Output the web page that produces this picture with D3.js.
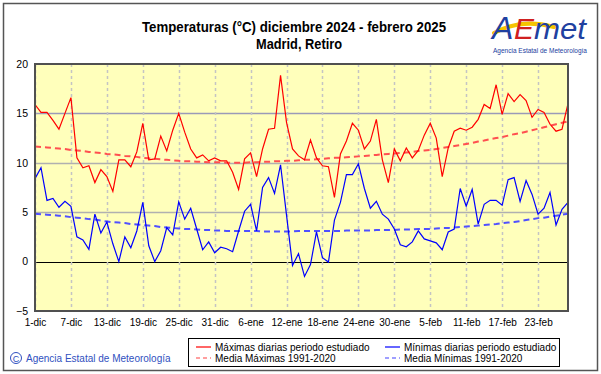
<!DOCTYPE html>
<html>
<head>
<meta charset="utf-8">
<style>
  body { margin: 0; background: #fff; }
  svg text { font-family: "Liberation Sans", Arial, sans-serif; }
</style>
</head>
<body>
<svg width="601" height="374"></svg>
<script src="https://d3js.org/d3.v7.min.js"></script>
<script>

// daily values, 1-dic-2024 .. 28-feb-2025 (90 days)
var tmax = [15.9, 15.1, 15.1, 14.3, 13.4, 15.0, 16.6, 10.5, 9.5, 9.7,
            8.0, 9.3, 8.6, 7.1, 10.3, 10.3, 9.6, 11.1, 14.0, 10.3,
            10.4, 12.7, 11.2, 13.3, 15.0, 13.1, 11.4, 10.5, 10.8, 10.2,
            10.5, 10.2, 10.2, 9.05, 7.3, 10.4, 11.0, 8.6, 11.4, 13.4,
            13.5, 18.85, 14.1, 11.4, 10.7, 10.3, 12.3, 10.5, 9.7, 9.6,
            6.5, 10.9, 12.2, 14.0, 13.3, 11.4, 12.2, 14.4, 10.3, 8.0,
            11.4, 10.2, 11.5, 10.5, 11.25, 12.8, 14.0, 12.5, 8.6, 11.5,
            13.2, 13.5, 13.3, 13.6, 14.4, 15.9, 15.5, 17.9, 14.9, 17.0,
            16.2, 16.9, 16.3, 14.6, 15.4, 15.1, 13.9, 13.2, 13.4, 16.0];

var tmin = [8.4, 9.5, 6.2, 6.4, 5.5, 6.1, 5.6, 2.5, 2.2, 1.25,
            4.8, 2.9, 4.0, 1.8, 0.0, 2.5, 1.4, 3.1, 6.0, 1.6,
            0.0, 1.1, 3.45, 2.7, 6.05, 4.3, 5.4, 3.3, 1.2, 2.0,
            0.9, 1.45, 1.3, 1.0, 3.1, 5.1, 5.8, 3.1, 7.5, 8.5,
            6.9, 9.8, 4.7, -0.4, 0.8, -1.5, -0.3, 3.0, 0.4, -0.05,
            4.2, 6.0, 8.8, 8.8, 9.9, 7.4, 5.4, 6.1, 4.8, 4.3,
            3.3, 1.7, 1.5, 2.0, 3.1, 2.3, 2.1, 1.9, 1.2, 3.0,
            3.3, 7.4, 5.6, 7.3, 3.8, 5.8, 6.2, 6.2, 5.7, 8.3,
            8.5, 6.1, 8.2, 6.8, 4.8, 5.4, 7.0, 3.7, 5.3, 6.0];

// media 1991-2020
var clmax = [11.65, 11.6, 11.55, 11.5, 11.45, 11.4, 11.3, 11.25, 11.2, 11.1,
             11.05, 11.0, 10.9, 10.85, 10.8, 10.7, 10.65, 10.6, 10.5, 10.45,
             10.4, 10.35, 10.3, 10.25, 10.2, 10.15, 10.15, 10.1, 10.1, 10.05,
             10.05, 10.05, 10.0, 10.0, 10.0, 10.0, 10.05, 10.05, 10.1, 10.1,
             10.15, 10.15, 10.2, 10.2, 10.25, 10.3, 10.3, 10.35, 10.4, 10.45,
             10.5, 10.5, 10.55, 10.6, 10.65, 10.7, 10.75, 10.8, 10.85, 10.9,
             10.95, 11.0, 11.05, 11.1, 11.2, 11.25, 11.3, 11.4, 11.5, 11.6,
             11.7, 11.8, 11.9, 12.0, 12.15, 12.25, 12.4, 12.5, 12.6, 12.75,
             12.9, 13.0, 13.15, 13.3, 13.45, 13.6, 13.75, 13.9, 14.05, 14.2];

var clmin = [4.85, 4.8, 4.75, 4.7, 4.65, 4.6, 4.5, 4.45, 4.4, 4.3,
             4.25, 4.15, 4.05, 4.0, 3.95, 3.9, 3.8, 3.75, 3.7, 3.65,
             3.6, 3.5, 3.45, 3.4, 3.35, 3.3, 3.3, 3.25, 3.2, 3.2,
             3.15, 3.15, 3.1, 3.1, 3.1, 3.1, 3.1, 3.1, 3.05, 3.05,
             3.05, 3.05, 3.05, 3.05, 3.1, 3.1, 3.1, 3.1, 3.1, 3.1,
             3.1, 3.1, 3.15, 3.15, 3.15, 3.15, 3.15, 3.2, 3.2, 3.2,
             3.2, 3.25, 3.25, 3.25, 3.3, 3.3, 3.3, 3.35, 3.4, 3.4,
             3.45, 3.5, 3.55, 3.6, 3.65, 3.7, 3.75, 3.8, 3.9, 3.95,
             4.0, 4.1, 4.2, 4.3, 4.4, 4.45, 4.55, 4.65, 4.75, 4.85];

var xLabels = ["1-dic", "7-dic", "13-dic", "19-dic", "25-dic", "31-dic", "6-ene", "12-ene",
               "18-ene", "24-ene", "30-ene", "5-feb", "11-feb", "17-feb", "23-feb"];
var yTicks = [-5, 0, 5, 10, 15, 20];

var legendItems = [
  {label: "Máximas diarias periodo estudiado", color: "#ff0000", dash: null},
  {label: "Media Máximas 1991-2020", color: "#ff4040", dash: "4,3"},
  {label: "Mínimas diarias periodo estudiado", color: "#0000ff", dash: null},
  {label: "Media Mínimas 1991-2020", color: "#4040ff", dash: "4,3"}
];

var svg = d3.select("svg");

var x = d3.scaleLinear().domain([0, tmax.length - 1]).range([35, 568]),
    y = d3.scaleLinear().domain([-5, 20]).range([311, 64]);

// outer frame
svg.append("rect")
    .attr("x", 3.5).attr("y", 3.5).attr("width", 594).attr("height", 367)
    .attr("fill", "none").attr("stroke", "#555").attr("stroke-width", 1.5);

// title
svg.append("text")
    .attr("x", 294).attr("y", 32)
    .attr("text-anchor", "middle")
    .attr("font-size", 14).attr("font-weight", "bold")
    .attr("textLength", 304).attr("lengthAdjust", "spacingAndGlyphs")
    .text("Temperaturas (°C) diciembre 2024 - febrero 2025");
svg.append("text")
    .attr("x", 299).attr("y", 49)
    .attr("text-anchor", "middle")
    .attr("font-size", 14).attr("font-weight", "bold")
    .attr("textLength", 86).attr("lengthAdjust", "spacingAndGlyphs")
    .text("Madrid, Retiro");

// logo
var logo = svg.append("g").attr("transform", "translate(492,6)");
logo.append("path")
    .attr("d", "M2,27 C20,17 40,15 62,21")
    .attr("fill", "none").attr("stroke", "#f5c400").attr("stroke-width", 4)
    .attr("stroke-linecap", "round");
logo.append("text")
    .attr("x", 0).attr("y", 33)
    .attr("font-size", 32).attr("font-style", "italic")
    .attr("fill", "#2040a0").text("A");
logo.append("text")
    .attr("x", 22).attr("y", 33)
    .attr("font-size", 30).attr("font-style", "italic")
    .attr("fill", "#d02020").text("E");
logo.append("text")
    .attr("x", 42).attr("y", 33)
    .attr("font-size", 30).attr("font-style", "italic")
    .attr("textLength", 52).attr("lengthAdjust", "spacingAndGlyphs")
    .attr("fill", "#2040a0").text("met");
logo.append("text")
    .attr("x", 48).attr("y", 47)
    .attr("text-anchor", "middle")
    .attr("font-size", 7).attr("fill", "#2040a0")
    .attr("textLength", 94).attr("lengthAdjust", "spacingAndGlyphs")
    .text("Agencia Estatal de Meteorología");

// plot background
svg.append("rect")
    .attr("x", x(0)).attr("y", y(20))
    .attr("width", x(89) - x(0)).attr("height", y(-5) - y(20))
    .attr("fill", "#ffffbb");

// horizontal grid
svg.append("g").selectAll("line")
  .data(yTicks.filter(function(d) { return d > -5 && d < 20; }))
  .enter().append("line")
    .attr("x1", x(0)).attr("x2", x(89))
    .attr("y1", function(d) { return Math.round(y(d)) + 0.5; })
    .attr("y2", function(d) { return Math.round(y(d)) + 0.5; })
    .attr("stroke", function(d) { return d === 0 ? "#000" : (d === 15 ? "#9a9ab8" : "#b0b0b0"); })
    .attr("stroke-width", function(d) { return d === 0 ? 1 : 1.5; });

// vertical dashed grid
svg.append("g").selectAll("line")
  .data(xLabels)
  .enter().append("line")
    .attr("x1", function(d, i) { return Math.round(x(i * 6)) + 0.5; })
    .attr("x2", function(d, i) { return Math.round(x(i * 6)) + 0.5; })
    .attr("y1", y(20)).attr("y2", y(-5))
    .attr("stroke", "#c4c4c4").attr("stroke-width", 1.5)
    .attr("stroke-dasharray", "3,3");

// axes labels
var xAxis = d3.axisBottom(x)
    .tickValues(xLabels.map(function(d, i) { return i * 6; }))
    .tickFormat(function(d) { return xLabels[d / 6]; })
    .tickSize(0).tickPadding(8);
var gx = svg.append("g").attr("transform", "translate(0," + y(-5) + ")").call(xAxis);
gx.select(".domain").remove();
gx.selectAll("text").attr("font-size", 10).attr("fill", "#000")
    .style("font-family", "'Liberation Sans', Arial, sans-serif");

var yAxis = d3.axisLeft(y).tickValues(yTicks).tickSize(0).tickPadding(7);
var gy = svg.append("g").attr("transform", "translate(" + x(0) + ",0)").call(yAxis);
gy.select(".domain").remove();
gy.selectAll("text").attr("font-size", 10.5).attr("fill", "#000")
    .style("font-family", "'Liberation Sans', Arial, sans-serif");

// series
var line = d3.line()
    .x(function(d, i) { return x(i); })
    .y(function(d) { return y(d); });

svg.append("path").datum(clmax).attr("d", line)
    .attr("fill", "none").attr("stroke", "#ff5050").attr("stroke-width", 2)
    .attr("stroke-dasharray", "6,4");
svg.append("path").datum(clmin).attr("d", line)
    .attr("fill", "none").attr("stroke", "#5050ff").attr("stroke-width", 2)
    .attr("stroke-dasharray", "6,4");
svg.append("path").datum(tmax).attr("d", line)
    .attr("fill", "none").attr("stroke", "#ff0000").attr("stroke-width", 1.2);
svg.append("path").datum(tmin).attr("d", line)
    .attr("fill", "none").attr("stroke", "#0000ff").attr("stroke-width", 1.2);

// plot frame
svg.append("rect")
    .attr("x", x(0)).attr("y", y(20))
    .attr("width", x(89) - x(0)).attr("height", y(-5) - y(20))
    .attr("fill", "none").attr("stroke", "#505050").attr("stroke-width", 2);

// legend
var lg = svg.append("g");
lg.append("rect")
    .attr("x", 188.5).attr("y", 338.5).attr("width", 371).attr("height", 28)
    .attr("fill", "#fff").attr("stroke", "#000").attr("stroke-width", 1);
legendItems.forEach(function(d, i) {
  var lx = i < 2 ? 196 : 385, ly = i % 2 === 0 ? 347 : 358;
  lg.append("line")
      .attr("x1", lx).attr("x2", lx + 15).attr("y1", ly).attr("y2", ly)
      .attr("stroke", d.color).attr("stroke-width", 1.2)
      .attr("stroke-dasharray", d.dash);
  lg.append("text")
      .attr("x", lx + 19).attr("y", ly + 3.5)
      .attr("font-size", 10).attr("fill", "#000")
      .text(d.label);
});

// copyright
svg.append("circle").attr("cx", 16).attr("cy", 358).attr("r", 5.5)
    .attr("fill", "none").attr("stroke", "#3050c0").attr("stroke-width", 1);
svg.append("text").attr("x", 16).attr("y", 361.5).attr("text-anchor", "middle")
    .attr("font-size", 9).attr("fill", "#3050c0").text("C");
svg.append("text").attr("x", 26).attr("y", 362)
    .attr("font-size", 10).attr("fill", "#3050c0")
    .text("Agencia Estatal de Meteorología");

</script>
</body>
</html>
